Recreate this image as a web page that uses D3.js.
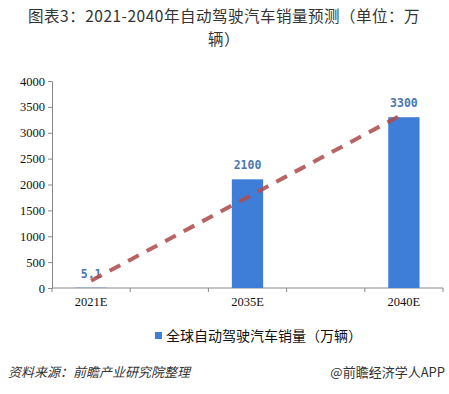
<!DOCTYPE html>
<html>
<head>
<meta charset="utf-8">
<script src="https://cdn.jsdelivr.net/npm/d3@7"></script>
<style>
  body { margin: 0; background: #fff; }
  svg { display: block; }
</style>
</head>
<body>
<svg width="449" height="394"></svg>
<script>
// data
var slots = ['a', 'b', 'c', 'd', 'e']
var categories = ['2021E', '', '2035E', '', '2040E']
var sales = [5.1, null, 2100, null, 3300]
var yTicks = [0, 500, 1000, 1500, 2000, 2500, 3000, 3500, 4000]
var trendSlots = ['a', 'e']
var trendValues = [140, 3370]
var titleLines = ['图表3：2021-2040年自动驾驶汽车销量预测（单位：万', '辆）']
var legendLabel = '全球自动驾驶汽车销量（万辆）'
var sourceText = '资料来源：前瞻产业研究院整理'
var brandText = '@前瞻经济学人APP'

var executor = () => {
  chart()
}

var chart = () => {
  var svg = d3.select('svg')
  var cjk = '"Noto Sans CJK SC", sans-serif'
  var tickFont = '"Liberation Serif", serif'

  var x = d3.scaleBand()
    .domain(slots)
    .range([52, 443])
    .paddingInner(0.6)
    .paddingOuter(0.3)

  var y = d3.scaleLinear()
    .domain([0, 4000])
    .range([288, 81])

  // title, wrapped in two lines
  svg.append('g').selectAll('text').data(titleLines).enter().append('text')
    .attr('x', 224)
    .attr('y', function(d, i) { return 22 + i * 23 })
    .attr('text-anchor', 'middle')
    .attr('font-family', cjk)
    .attr('font-size', 15.5)
    .attr('letter-spacing', 0.5)
    .attr('fill', '#333')
    .text(function(d) { return d })

  // faint watermark
  svg.append('text')
    .attr('transform', 'translate(230,205) rotate(-35)')
    .attr('text-anchor', 'middle')
    .attr('font-family', cjk)
    .attr('font-size', 40)
    .attr('font-weight', 'bold')
    .attr('fill', '#000')
    .attr('fill-opacity', 0.02)
    .text('前瞻产业研究院')

  // y axis
  var yAxis = svg.append('g')
    .attr('transform', 'translate(52,0)')
    .call(d3.axisLeft(y).tickValues(yTicks).tickFormat(d3.format('d')).tickSize(4).tickSizeOuter(0))
  yAxis.selectAll('text')
    .attr('font-family', tickFont)
    .attr('font-size', 12.5)
    .attr('fill', '#111')
  yAxis.selectAll('line, path').attr('stroke', '#888')

  // x axis with ticks at band edges
  var step = x.step()
  var edges = [52].concat(slots.map(function(d) { return x(d) + x.bandwidth() / 2 + step / 2 }))
  var xg = svg.append('g')
  xg.append('line')
    .attr('x1', 52).attr('x2', 443)
    .attr('y1', y(0)).attr('y2', y(0))
    .attr('stroke', '#888')
  xg.selectAll('line.tk').data(edges).enter().append('line')
    .attr('class', 'tk')
    .attr('x1', function(d) { return d }).attr('x2', function(d) { return d })
    .attr('y1', y(0)).attr('y2', y(0) + 4)
    .attr('stroke', '#888')
  xg.selectAll('text').data(slots).enter().append('text')
    .attr('x', function(d) { return x(d) + x.bandwidth() / 2 })
    .attr('y', 306)
    .attr('text-anchor', 'middle')
    .attr('font-family', tickFont)
    .attr('font-size', 12.5)
    .attr('fill', '#111')
    .text(function(d, i) { return categories[i] })

  var rows = slots.map(function(s, i) { return { slot: s, v: sales[i] } })
    .filter(function(d) { return d.v != null })

  // bars
  svg.append('g')
    .attr('fill', '#3E7DD8')
    .selectAll('rect').data(rows).enter().append('rect')
    .attr('x', function(d) { return x(d.slot) })
    .attr('y', function(d) { return y(d.v) })
    .attr('width', x.bandwidth())
    .attr('height', function(d) { return y(0) - y(d.v) })

  // value labels
  svg.append('g').selectAll('text').data(rows).enter().append('text')
    .attr('x', function(d) { return x(d.slot) + x.bandwidth() / 2 })
    .attr('y', function(d) { return y(d.v) - 10 })
    .attr('text-anchor', 'middle')
    .attr('font-family', '"DejaVu Sans Mono", monospace')
    .attr('font-weight', 'bold')
    .attr('font-size', 11.5)
    .attr('fill', '#4A78B0')
    .text(function(d) { return d.v })

  // trend line
  var line = d3.line()
    .x(function(d, i) { return x(trendSlots[i]) + x.bandwidth() / 2 })
    .y(function(d) { return y(d) })
  svg.append('path')
    .datum(trendValues)
    .attr('d', line)
    .attr('fill', 'none')
    .attr('stroke', '#AE4D4E')
    .attr('stroke-width', 4)
    .attr('stroke-dasharray', '12,9')
    .attr('stroke-opacity', 0.88)

  // legend
  svg.append('rect')
    .attr('x', 155).attr('y', 332)
    .attr('width', 7).attr('height', 7)
    .attr('fill', '#3E7DD8')
  svg.append('text')
    .attr('x', 166).attr('y', 341)
    .attr('font-family', cjk)
    .attr('font-size', 14)
    .attr('fill', '#111')
    .text(legendLabel)

  // footer
  svg.append('text')
    .attr('x', 8).attr('y', 377)
    .attr('font-family', cjk)
    .attr('font-size', 13)
    .attr('font-style', 'italic')
    .attr('fill', '#333')
    .text(sourceText)
  svg.append('text')
    .attr('x', 445).attr('y', 377)
    .attr('text-anchor', 'end')
    .attr('font-family', cjk)
    .attr('font-size', 13)
    .attr('fill', '#333')
    .text(brandText)
}

if (document.readyState === 'loading') {
  document.addEventListener('DOMContentLoaded', executor)
} else {
  executor()
}
</script>
</body>
</html>
